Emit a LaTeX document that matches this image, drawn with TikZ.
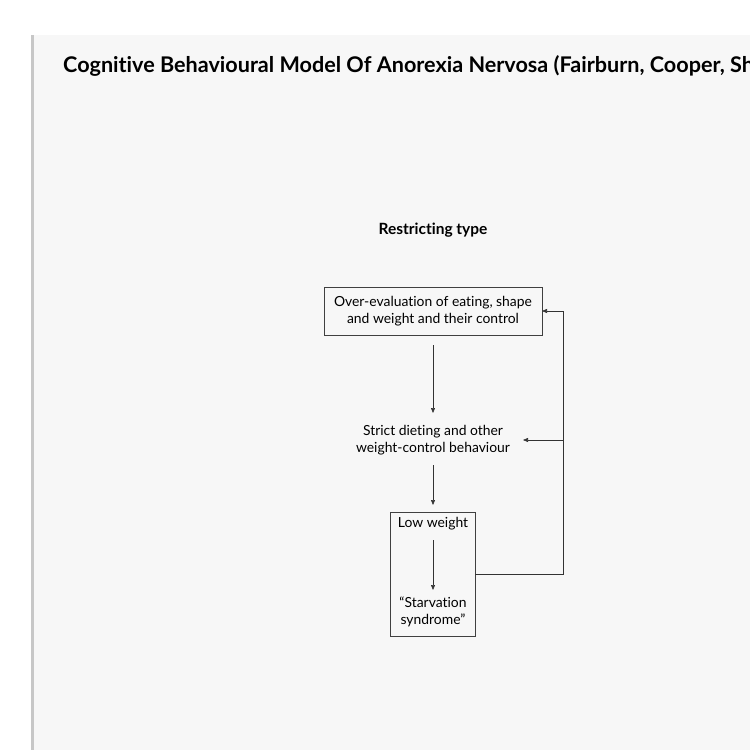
\documentclass[tikz,border=0pt]{standalone}
\usepackage{fontspec}
\setmainfont{Lato}[Ligatures={NoCommon}]
\usetikzlibrary{arrows.meta}
\begin{document}
\begin{tikzpicture}[x=1pt,y=-1pt,
  txt/.style={font=\fontsize{13.9}{17.5}\selectfont,align=center,inner sep=0},
  box/.style={draw=black!75,line width=0.7pt},
  arr/.style={-{Triangle[length=5pt,width=4pt]},line width=0.6pt,black!80}]
\useasboundingbox (0,0) rectangle (750,750);
\fill[white] (0,0) rectangle (750,750);
\fill[black!22] (31,35) rectangle (35,750);
\fill[black!3] (34,35) rectangle (750,750);
\begin{scope}
\clip (0,0) rectangle (750,750);
\node[anchor=base west,inner sep=0,font=\bfseries\fontsize{21.6}{24}\selectfont] (title) at (63,72) {Cognitive Behavioural Model Of Anorexia Nervosa (Fairburn, Cooper, Shafran, 2003)};
\end{scope}
\node[font=\bfseries\fontsize{15.5}{17}\selectfont,inner sep=0] (rt) at (433,230) {Restricting type};
\draw[box] (324,287) rectangle (542,335);
\node[txt] (b1) at (433,311) {Over-evaluation of eating, shape\\and weight and their control};
\coordinate (b1e) at (542,311);
\coordinate (b1s) at (433,345);
\node[txt] (sd) at (433,440) {Strict dieting and other\\weight-control behaviour};
\coordinate (sdn) at (433,413);
\coordinate (sds) at (433,465);
\coordinate (sde) at (523,440);
\draw[box] (390,512) rectangle (475,636);
\node[txt] (lw) at (433,524) {Low weight};
\node[txt] (ss) at (433,612) {``Starvation\\syndrome''};
\coordinate (lws) at (433,540);
\coordinate (ssn) at (433,590);
\coordinate (b2n) at (433,505);
\coordinate (b2e) at (475,574);
\coordinate (c1) at (563,574);
\coordinate (c2) at (563,311);
\coordinate (c3) at (563,440);
\draw[arr] (b1s) -- (sdn);
\draw[arr] (sds) -- (b2n);
\draw[arr] (lws) -- (ssn);
\draw[arr] (b2e) -- (c1) -- (c2) -- (b1e);
\draw[arr] (c3) -- (sde);
\end{tikzpicture}
\end{document}
